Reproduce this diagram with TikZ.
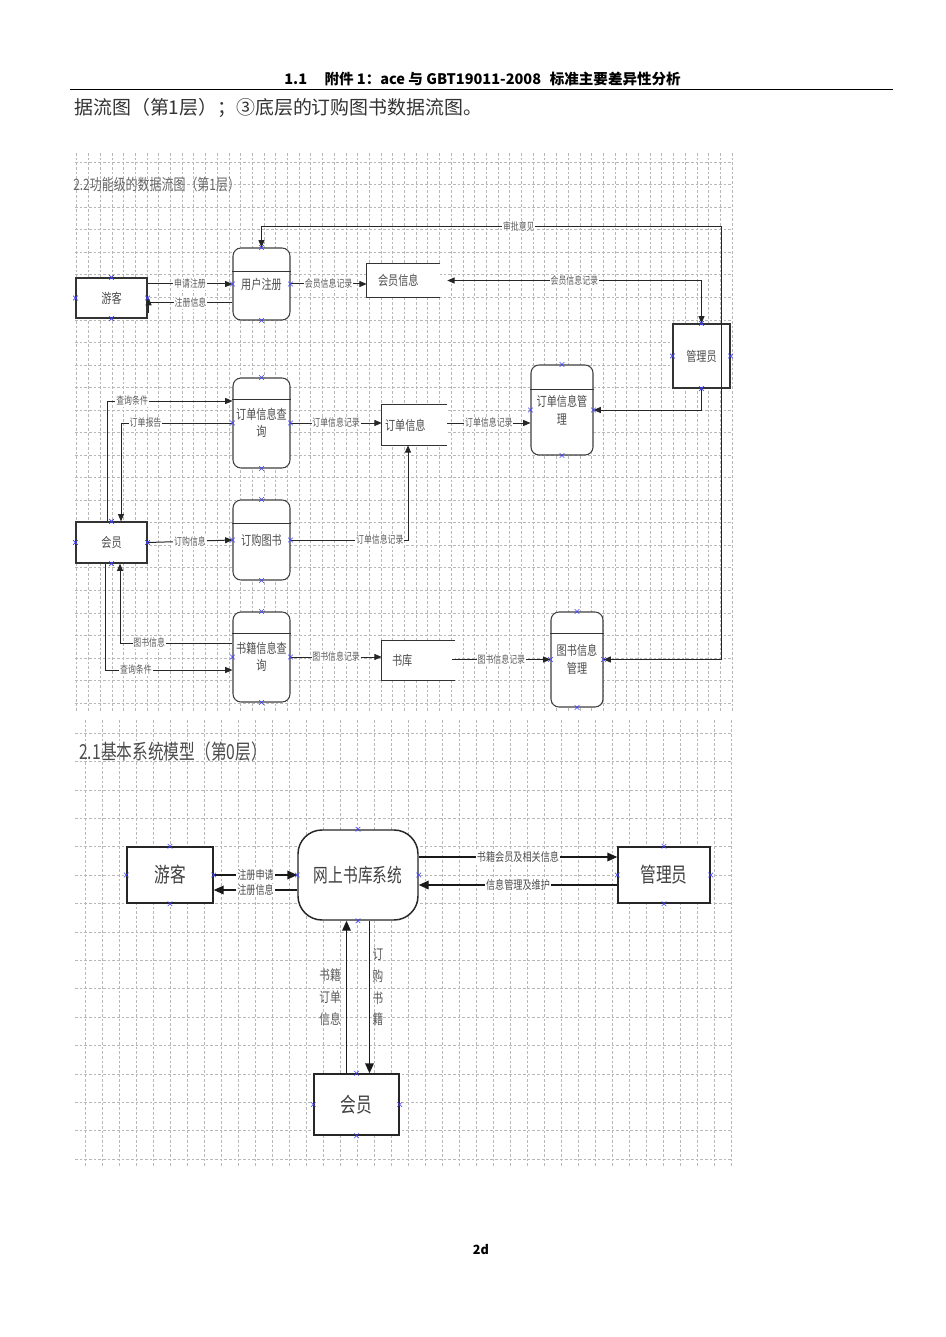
\documentclass[tikz,border=0pt]{standalone}
\usepackage{fontspec}
\setmainfont{Noto Sans CJK SC}
\newfontfamily\dgf[FakeStretch=0.76]{Noto Sans CJK SC}
\usetikzlibrary{arrows.meta,calc}
\newcommand\xmk[1]{\draw[cpx] ($(#1)+(-2.3,-2.3)$) -- ($(#1)+(2.3,2.3)$) ($(#1)+(-2.3,2.3)$) -- ($(#1)+(2.3,-2.3)$);}
\newcommand\xmks[1]{\xmk{#1.north}\xmk{#1.south}\xmk{#1.east}\xmk{#1.west}}
\begin{document}
\begin{tikzpicture}[x=0.75pt,y=-0.75pt,
  gridl/.style={draw=black!28, line width=0.4pt, dash pattern=on 2pt off 1.5pt},
  sz/.style 2 args={minimum width=#1*0.75pt, minimum height=#2*0.75pt, inner sep=0pt},
  ent/.style={draw=black!80, line width=0.9pt, fill=white, text=black!70, font=\dgf\fontsize{10}{12}\selectfont},
  proc/.style={draw=black!75, line width=0.8pt, fill=white, rounded corners=6pt, align=center, text=black!70, font=\dgf\fontsize{10}{13}\selectfont},
  store/.style={fill=white},
  stline/.style={draw=black!80, line width=0.8pt},
  stxt/.style={anchor=west, inner sep=0pt, text=black!70, font=\dgf\fontsize{10}{12}\selectfont},
  lbl/.style={fill=white, inner sep=0.6pt, text=black!65, font=\dgf\fontsize{7.8}{9}\selectfont},
  flow/.style={draw=black!85, line width=0.75pt, -{Triangle[length=5.5pt,width=4.5pt]}},
  plain/.style={draw=black!85, line width=0.75pt},
  ent2/.style={draw=black!85, line width=1.1pt, fill=white, text=black!75, font=\dgf\fontsize{15.5}{17}\selectfont},
  sys/.style={draw=black!85, line width=1.1pt, fill=white, rounded corners=18pt, text=black!75, font=\dgf\fontsize{14.5}{17}\selectfont},
  lbl2/.style={fill=white, inner sep=0.6pt, text=black!70, font=\dgf\fontsize{9}{10}\selectfont},
  vlbl/.style={inner sep=0pt, align=center, text=black!65, font=\dgf\fontsize{10.5}{16.3}\selectfont},
  flow2/.style={draw=black!90, line width=1.1pt, -{Triangle[length=7.5pt,width=6.5pt]}},
  cpx/.style={draw=blue!75, line width=0.45pt}
]
\fill[white] (0,0) rectangle (945,1337);
\useasboundingbox (0,0) rectangle (945,1337);

% ---------- grids ----------
\foreach \k in {0,...,24} \draw[gridl] (75,{162+22.54*\k}) -- (732,{162+22.54*\k});
\foreach \k in {0,...,56} \draw[gridl] ({76.7+11.7*\k},153) -- ({76.7+11.7*\k},713);
\foreach \k in {0,...,15} \draw[gridl] (75,{733+28.4*\k}) -- (732,{733+28.4*\k});
\foreach \k in {0,...,38} \draw[gridl] ({85.7+17*\k},720) -- ({85.7+17*\k},1167);

% ---------- page text ----------
\node[anchor=base, font=\bfseries\fontsize{10.9}{12}\selectfont] (hdr) at (482.5,85)
  {1.1\hspace{1.2em}附件 1：ace 与 GBT19011-2008\hspace{0.6em}标准主要差异性分析};
\draw[line width=0.7pt] (70,89.5) -- (893,89.5);
\node[anchor=west, inner sep=0pt, text=black!80, font=\fontsize{14.2}{16}\selectfont] (intro) at (74,108)
  {据流图（第1层）；③底层的订购图书数据流图。};
\node[font=\bfseries\fontsize{9.5}{11}\selectfont] (foot) at (481,1250) {2d};

\node[anchor=west, inner sep=0pt, text=black!60, font=\dgf\fontsize{11.8}{13}\selectfont] (t1) at (73,185) {2.2功能级的数据流图（第1层）};
\node[anchor=west, inner sep=0pt, text=black!70, font=\dgf\fontsize{15.5}{17}\selectfont] (t2) at (79,752) {2.1基本系统模型（第0层）};

% ---------- level 1 diagram ----------
\node[ent, sz={71}{40}] (yk1) at (111.5,298) {游客};
\node[proc, sz={57}{72}] (zc) at (261.5,284) {用户注册};
\draw[stline] ($(zc.north west)+(0,24)$) -- ($(zc.north east)+(0,24)$);

\node[store, sz={73}{33}] (hy) at (403.5,280.5) {};
\draw[stline] (hy.north east) -- (hy.north west) -- (hy.south west) -- (hy.south east);
\node[stxt] (hyt) at ($(hy.west)+(11,0)$) {会员信息};

\node[ent, sz={57}{64}] (gly1) at (701.5,356) {管理员};

\node[proc, sz={57}{90}] (ddcx) at (261.5,423) {订单信息查\\询};
\draw[stline] ($(ddcx.north west)+(0,22)$) -- ($(ddcx.north east)+(0,22)$);

\node[store, sz={65}{40}] (dd) at (414.5,425) {};
\draw[stline] (dd.north east) -- (dd.north west) -- (dd.south west) -- (dd.south east);
\node[stxt] (ddt) at ($(dd.west)+(3,0)$) {订单信息};

\node[proc, sz={62}{90}] (ddgl) at (562,410) {订单信息管\\理};
\draw[stline] ($(ddgl.north west)+(0,25)$) -- ($(ddgl.north east)+(0,25)$);

\node[ent, sz={71}{41}] (hy1) at (111.5,542.5) {会员};

\node[proc, sz={57}{80}] (dgts) at (261.5,540) {订购图书};
\draw[stline] ($(dgts.north west)+(0,24)$) -- ($(dgts.north east)+(0,24)$);

\node[proc, sz={57}{90}] (sjcx) at (261.5,657) {书籍信息查\\询};
\draw[stline] ($(sjcx.north west)+(0,22)$) -- ($(sjcx.north east)+(0,22)$);

\node[store, sz={73}{39}] (sk) at (418.5,660.5) {};
\draw[stline] (sk.north east) -- (sk.north west) -- (sk.south west) -- (sk.south east);
\node[stxt] (skt) at ($(sk.west)+(10,0)$) {书库};

\node[proc, sz={52}{95}] (tsgl) at (577,659.5) {图书信息\\管理};
\draw[stline] ($(tsgl.north west)+(0,22)$) -- ($(tsgl.north east)+(0,22)$);

% connectors level 1
\draw[flow] (yk1.east |- zc.west) -- node[lbl]{申请注册} (zc.west);
\draw[plain] ($(zc.west)+(0,19)$) -- node[lbl]{注册信息} ($(yk1.east)+(1,5)$);
\draw[flow] ($(yk1.east)+(1,15)$) -- ($(yk1.east)+(1,0)$);
\draw[flow] (zc.east) -- node[lbl]{会员信息记录} (hy.west |- zc.east);

\coordinate (c1) at (gly1.north |- hy.east);
\draw[flow] (c1) -- node[lbl]{会员信息记录} ($(hy.east)+(7,0)$);
\draw[flow] (c1) -- (gly1.north);

\coordinate (r1) at (721,227);
\coordinate (r2) at (721,659.5);
\draw[flow] (r2) -- (r1) -| node[lbl,pos=0.22]{审批意见} (zc.north);
\draw[flow] (r2) -- (tsgl.east);

\draw[flow] (gly1.south) |- (ddgl.east);

\draw[flow] ($(hy1.north)+(-4.5,0)$) |- node[lbl,pos=0.6]{查询条件} ($(ddcx.west)+(0,-22)$);
\draw[flow] (ddcx.west) -| node[lbl,pos=0.39]{订单报告} ($(hy1.north)+(9.5,0)$);

\draw[flow] (ddcx.east) -- node[lbl]{订单信息记录} (dd.west |- ddcx.east);
\draw[flow] ($(dd.east)+(0,-2)$) -- node[lbl]{订单信息记录} ($(ddgl.west)+(0,13)$);

\draw[flow] (hy1.east) -- node[lbl]{订购信息} (dgts.west);
\draw[flow] (dgts.east) -| node[lbl,pos=0.38]{订单信息记录} ($(dd.south)+(-6.5,0)$);

\draw[flow] ($(sjcx.west)+(0,-14)$) -| node[lbl,pos=0.37]{图书信息} ($(hy1.south)+(8.5,0)$);
\draw[flow] ($(hy1.south)+(-6,0)$) |- node[lbl,pos=0.62]{查询条件} ($(sjcx.west)+(0,13)$);

\draw[flow] (sjcx.east) -- node[lbl]{图书信息记录} (sk.west |- sjcx.east);
\draw[flow] ($(sk.east)+(-3,-1)$) -- node[lbl]{图书信息记录} (tsgl.west);

% markers level 1
\xmks{yk1}\xmks{zc}\xmks{gly1}\xmks{ddcx}\xmks{ddgl}\xmks{hy1}\xmks{dgts}\xmks{sjcx}\xmks{tsgl}

% ---------- level 0 diagram ----------
\node[ent2, sz={86}{56}] (yk2) at (170,875) {游客};
\node[sys, sz={120}{90}] (sys) at (358,875) {网上书库系统};
\node[ent2, sz={92}{56}] (gly2) at (664,875) {管理员};
\node[ent2, sz={85}{61}] (hy2) at (356.5,1104.5) {会员};

\draw[flow2] (yk2.east) -- node[lbl2]{注册申请} (sys.west);
\draw[flow2] ($(sys.west)+(0,15)$) -- node[lbl2]{注册信息} ($(yk2.east)+(0,15)$);
\draw[flow2] ($(sys.east)+(0,-18)$) -- node[lbl2]{书籍会员及相关信息} ($(gly2.west)+(0,-18)$);
\draw[flow2] ($(gly2.west)+(0,10)$) -- node[lbl2]{信息管理及维护} ($(sys.east)+(0,10)$);
\draw[flow2] ($(hy2.north)+(-10,0)$) -- ($(sys.south)+(-11.5,0)$);
\draw[flow2] ($(sys.south)+(11.5,0)$) -- ($(hy2.north)+(13,0)$);
\node[vlbl] (v1) at (330,997) {书籍\\订单\\信息};
\node[vlbl] (v2) at (378,987) {订\\购\\书\\籍};

\xmks{yk2}\xmks{sys}\xmks{gly2}\xmks{hy2}
\end{tikzpicture}
\end{document}
